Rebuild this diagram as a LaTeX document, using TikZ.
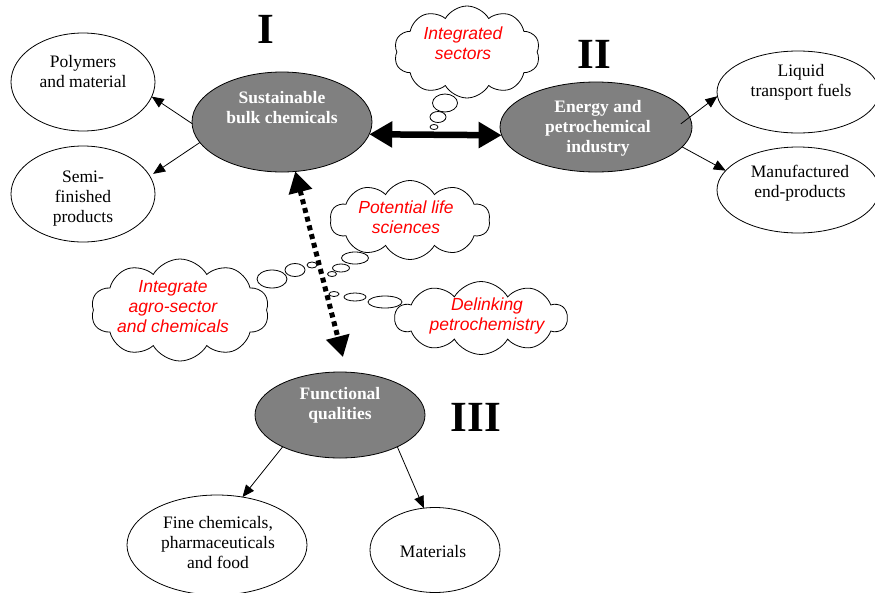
\documentclass[tikz,border=0pt]{standalone}
\usepackage{fontspec}
\setmainfont{Liberation Serif}
\newfontfamily\cloudfont{Liberation Sans}
\usetikzlibrary{shapes.geometric,shapes.symbols,arrows.meta}
\definecolor{ovalgrey}{HTML}{808080}
\begin{document}
\begin{tikzpicture}[x=1pt,y=-1pt,
  oval/.style={ellipse,draw=black,line width=0.8pt,inner sep=0pt,outer sep=0pt,fill=white},
  greyoval/.style={oval,fill=ovalgrey},
  lbl/.style={align=center,inner sep=0pt,font=\fontsize{17.5}{20}\selectfont},
  wlbl/.style={lbl,text=white,font=\fontsize{17.5}{20}\selectfont\bfseries},
  ctxt/.style={align=center,inner sep=0pt,text=red,font=\fontsize{17.5}{20}\selectfont\cloudfont\itshape},
  thought/.style={cloud,draw=black,fill=white,line width=0.8pt,cloud puffs=10,cloud puff arc=120,cloud ignores aspect,inner sep=0pt,outer sep=0pt},
  bubble/.style={ellipse,draw=black,fill=white,line width=0.8pt,inner sep=0pt,outer sep=0pt},
  numeral/.style={inner sep=0pt,font=\fontsize{43}{43}\selectfont\bfseries},
  arr/.style={-{Triangle[length=12pt,width=10pt]},line width=0.8pt},
  bigarr/.style={{Triangle[length=23pt,width=25pt]}-{Triangle[length=23pt,width=25pt]},line width=6.5pt},
  dotarr/.style={{Triangle[length=21pt,width=23pt]}-{Triangle[length=21pt,width=23pt]},line width=5pt,dash pattern=on 5pt off 4pt}
]
\useasboundingbox (0,0) rectangle (875,592);

% white ellipses
\node[oval,minimum width=144pt,minimum height=98pt] (pm) at (83,82) {};
\node[lbl] (pmt) at (83,72) {Polymers\\and material};
\node[oval,minimum width=144pt,minimum height=96pt] (sf) at (83,194) {};
\node[lbl] (sft) at (83,199) {Semi-\\finished\\products};
\node[oval,minimum width=162pt,minimum height=82pt] (lq) at (798,92) {};
\node[lbl] (lqt) at (801,82) {Liquid\\transport fuels};
\node[oval,minimum width=162pt,minimum height=86pt] (mf) at (798,190) {};
\node[lbl] (mft) at (800,183) {Manufactured\\end-products};
\node[oval,minimum width=180pt,minimum height=100pt] (fc) at (217,545) {};
\node[lbl] (fct) at (218,543) {Fine chemicals,\\pharmaceuticals\\and food};
\node[oval,minimum width=130pt,minimum height=85pt] (mt) at (435,550) {};
\node[lbl] (mtt) at (433,552) {Materials};

% grey ellipses
\node[greyoval,minimum width=180pt,minimum height=100pt] (sb) at (282,122) {};
\node[wlbl] (sbt) at (282,108) {Sustainable\\bulk chemicals};
\node[greyoval,minimum width=192pt,minimum height=90pt] (en) at (596,127) {};
\node[wlbl] (ent) at (598,128) {Energy and\\petrochemical\\industry};
\node[greyoval,minimum width=170pt,minimum height=86pt] (fq) at (340,415) {};
\node[wlbl] (fqt) at (340,405) {Functional\\qualities};

% numerals
\node[numeral] (n1) at (266,29) {I};
\node[numeral] (n2) at (594,54) {II};
\node[numeral] (n3) at (476,417) {III};

% thin arrows
\draw[arr] (sb.181) -- (pm.-12.7);
\draw[arr,shorten >=4pt] (sb.194) -- (sf.15);
\draw[arr,shorten <=-11pt] (en.6.7) -- (lq.183);
\draw[arr] (en.-13.9) -- (mf.165);
\draw[arr] (fq.209) -- (fc.62.5);
\draw[arr] (fq.-29) -- (mt.105.6);

% big arrows
\draw[bigarr] (sb.-8.5) -- (en.185.2);
\draw[dotarr,shorten >=15.5pt] (sb.-75.4) -- (fq.81);

% thought clouds
\node[thought,minimum width=146pt,minimum height=92pt] (c1) at (467,52) {};
\node[ctxt] (c1t) at (463,43) {Integrated\\sectors};
\node[bubble,minimum width=25pt,minimum height=18pt] (b11) at (445,103) {};
\node[bubble,minimum width=16pt,minimum height=11pt] (b12) at (438,117) {};
\node[bubble,minimum width=8pt,minimum height=5pt] (b13) at (434,127) {};

\node[thought,minimum width=160pt,minimum height=79pt] (c2) at (410,220) {};
\node[ctxt] (c2t) at (406,217) {Potential life\\sciences};
\node[bubble,minimum width=27pt,minimum height=12pt] (b21) at (355,258) {};
\node[bubble,minimum width=17pt,minimum height=8pt] (b22) at (341,268) {};
\node[bubble,minimum width=9pt,minimum height=5pt] (b23) at (332,274) {};

\node[thought,minimum width=178pt,minimum height=102pt] (c3) at (180,310) {};
\node[ctxt] (c3t) at (173,307) {Integrate\\agro-sector\\and chemicals};
\node[bubble,minimum width=30pt,minimum height=18pt] (b31) at (272,279) {};
\node[bubble,minimum width=20pt,minimum height=13pt] (b32) at (295,270) {};
\node[bubble,minimum width=10pt,minimum height=6pt] (b33) at (312,265) {};

\node[thought,minimum width=172pt,minimum height=73pt] (c4) at (481,318) {};
\node[ctxt] (c4t) at (487,316) {Delinking\\petrochemistry};
\node[bubble,minimum width=34pt,minimum height=12pt] (b41) at (385,302) {};
\node[bubble,minimum width=22pt,minimum height=8pt] (b42) at (355,297) {};
\node[bubble,minimum width=10pt,minimum height=5pt] (b43) at (334,294) {};
\end{tikzpicture}
\end{document}
